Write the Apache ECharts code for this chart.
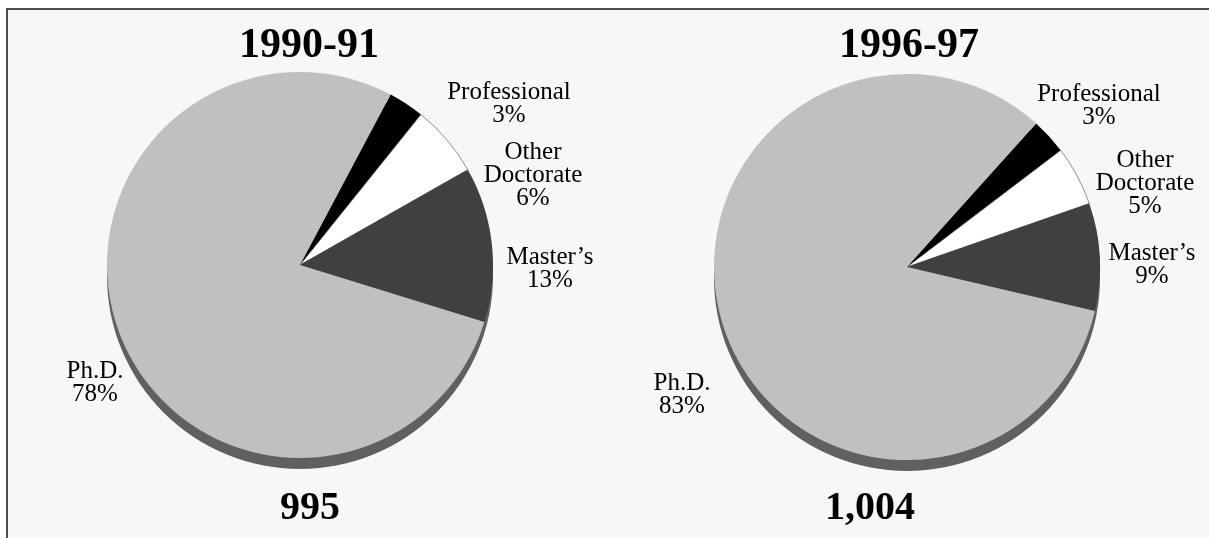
<!DOCTYPE html>
<html lang="en">
<head>
    <meta charset="UTF-8">
    <title>Degrees 1990-91 vs 1996-97</title>
    <style>
        html, body { margin: 0; padding: 0; background: #ffffff; }
        #main { width: 1209px; height: 538px; }
    </style>
</head>
<body>
    <div id="main"></div>

    <script src="https://cdn.jsdelivr.net/npm/echarts@6/dist/echarts.min.js"></script>
    <script>
// data
var categories = ['Professional', 'Other Doctorate', 'Master\u2019s', 'Ph.D.'];
var share9091 = [3, 6, 13, 78];
var share9697 = [3, 5, 9, 83];
var years = ['1990-91', '1996-97'];
var totals = ['995', '1,004'];

var colors = ['#000000', '#ffffff', '#404040', '#c0c0c0'];
var font = '"Liberation Serif", "Times New Roman", serif';

// label anchors relative to pie centre
var labelOffsets = [
    [[209, -161], [233, -90], [250, 4], [-205, 118]],
    [[192, -161], [238, -84], [245, -2], [-225, 128]]
];

var pies = [
    { center: [300, 265], start: 62, values: share9091, titleX: 304, totalX: 305 },
    { center: [907, 267], start: 48, values: share9697, titleX: 904, totalX: 865 }
];
var R = 193;

var series = [];
var titles = [];
pies.forEach(function (p, k) {
    var total = p.values.reduce(function (a, b) { return a + b; }, 0);
    // 3d edge underneath
    series.push({
        type: 'pie',
        silent: true,
        center: [p.center[0], p.center[1] + 11],
        radius: R,
        label: { show: false },
        labelLine: { show: false },
        itemStyle: { color: '#606060' },
        data: [{ name: 'edge', value: total }]
    });
    series.push({
        type: 'pie',
        silent: true,
        center: p.center,
        radius: R,
        startAngle: p.start,
        avoidLabelOverlap: false,
        label: {
            show: true,
            position: 'outside',
            fontFamily: font,
            fontSize: 25,
            lineHeight: 23,
            color: '#000',
            formatter: function (d) {
                return d.name.replace(' ', '\n') + '\n' + d.value + '%';
            }
        },
        labelLine: { show: false },
        labelLayout: function (params) {
            var off = labelOffsets[k][params.dataIndex];
            return {
                x: p.center[0] + off[0],
                y: p.center[1] + off[1],
                align: 'center',
                verticalAlign: 'middle'
            };
        },
        data: categories.map(function (c, i) {
            var st = { color: colors[i], borderWidth: 0 };
            if (i === 1) { st.borderColor = '#444'; st.borderWidth = 0.6; }
            return { name: c, value: p.values[i], itemStyle: st };
        })
    });
    titles.push({
        text: years[k],
        left: p.titleX,
        top: 20,
        textAlign: 'center',
        textStyle: { fontFamily: font, fontSize: 42, fontWeight: 'bold', color: '#000' }
    });
    titles.push({
        text: totals[k],
        left: p.totalX,
        top: 484,
        textAlign: 'center',
        textStyle: { fontFamily: font, fontSize: 40, fontWeight: 'bold', color: '#000' }
    });
});

var chart = echarts.init(document.getElementById('main'));
chart.setOption({
    animation: false,
    backgroundColor: '#ffffff',
    graphic: [{
        type: 'rect',
        z: -10,
        shape: { x: 7, y: 9, width: 1220, height: 540 },
        style: { fill: '#f7f7f7', stroke: '#4d4d4d', lineWidth: 2 }
    }],
    title: titles,
    series: series
});
    </script>
</body>
</html>
